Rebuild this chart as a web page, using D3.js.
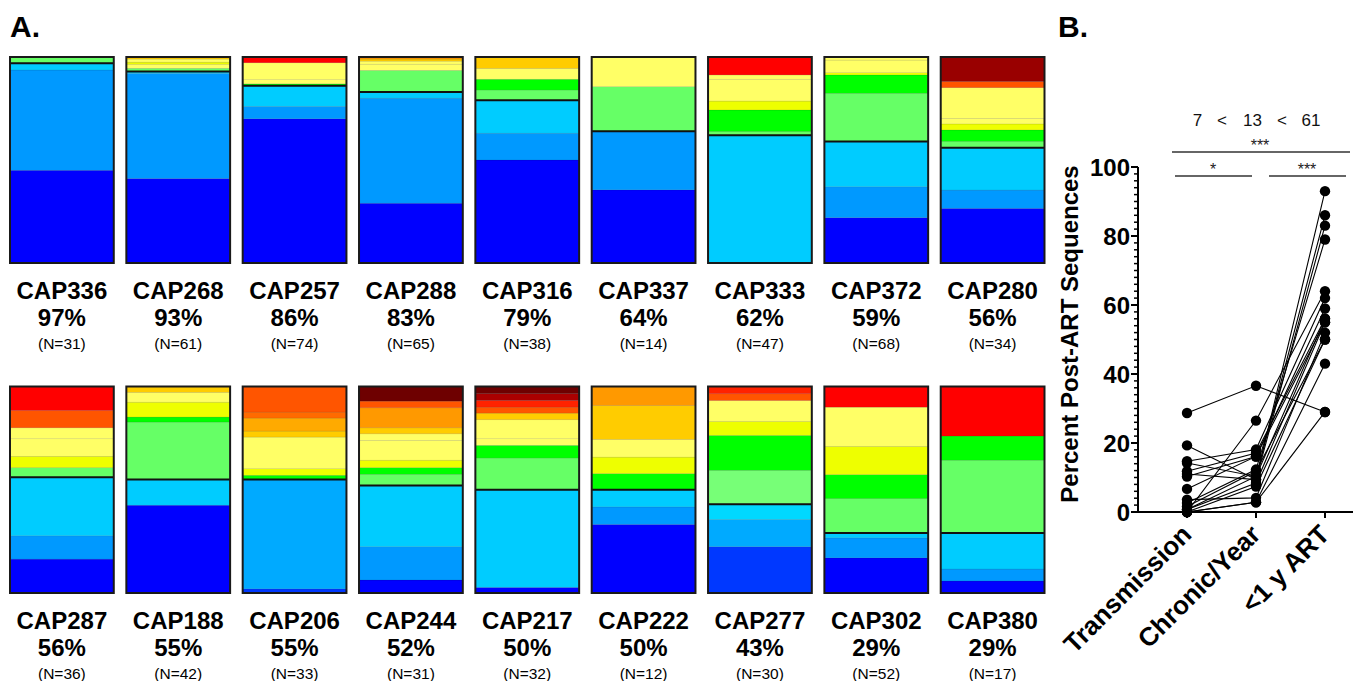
<!DOCTYPE html>
<html>
<head>
<meta charset="utf-8">
<script src="https://cdn.jsdelivr.net/npm/d3@7"></script>
<style>
  html, body { margin: 0; padding: 0; background: #ffffff; }
  svg { display: block; }
</style>
</head>
<body>
<svg id="chart" width="1358" height="681"></svg>
<script>
// ---------------- DATA ----------------
const patients = ["CAP336","CAP268","CAP257","CAP288","CAP316","CAP337","CAP333","CAP372","CAP280",
                  "CAP287","CAP188","CAP206","CAP244","CAP217","CAP222","CAP277","CAP302","CAP380"];
const percents = [97,93,86,83,79,64,62,59,56,56,55,55,52,50,50,43,29,29];
const counts   = [31,61,74,65,38,14,47,68,34,36,42,33,31,32,12,30,52,17];

// lineage category of each stacked segment (bottom -> top)
const segmentCats = [
  ["db","mb","lb","lg"],
  ["db","mb","lb","lg","ly","yg","ly","gold"],
  ["db","mb","lb","g","ly","ly","r"],
  ["db","mb","lb","lg","ly","ly","gold","or"],
  ["db","mb","lb","lg","g","ly","gold"],
  ["db","mb","lg","ly"],
  ["lb","lg","g","yg","ly","ly","r"],
  ["db","mb","lb","lg","g","yg","ly","ly"],
  ["db","mb","lb","lg","g","yg","ly","ly","ro","dr"],
  ["db","mb","lb","lg","yg","ly","ly","ro","r"],
  ["db","lb","lg","g","yg","ly","gold"],
  ["db2","mb2","g","yg","ly","gold","or2","ro2","ro"],
  ["db","mb","lb","lg","g","yg","ly","ly","gold","or","ro","ddr"],
  ["db","lb","lg","g","ly","ly","gold","ro","r2","dr2","ddr"],
  ["db","mb","lb","g","yg","ly","gold","or"],
  ["db2","mb2","lb2","lg2","g","yg","ly","ro","r2"],
  ["db","mb","lb","lg","g","yg","ly","r"],
  ["db","mb","lb","lg","g","r"]
];
// cumulative upper bound (% of sequences) of each segment
const segmentTops = [
  [45,93.7,97,100],
  [41,92,93,94.5,96.5,97.5,99,100],
  [70,76,86,87,89,97.2,100],
  [29,80,83,93.5,96.5,98,99,100],
  [50,63,79,84,89.2,94.5,100],
  [35.5,64,85.6,100],
  [62,63.8,74.3,78.6,89.2,91.3,100],
  [22,37,59,82.4,91.3,92.4,98.5,100],
  [26.5,35.4,56,59,64.6,67.5,70.2,85.1,88.1,100],
  [16.4,27.7,56,60.7,66.2,74.7,80,88.4,100],
  [42.5,55,82.8,85.2,92.4,97.2,100],
  [2,55,57,60.2,75.5,78.4,84.7,87.6,100],
  [6.3,22.4,52,57.5,60.7,64.3,73.9,77.1,80,89.7,92.9,100],
  [2.7,50,65.4,71.5,74.7,83.9,87.1,90,93.2,96.5,100],
  [33.2,41.7,50,57.8,65.8,74.4,90.8,100],
  [22.4,35.6,43,59.4,76.3,83.1,93.2,96.5,100],
  [17,26.7,29,45.7,57.3,71,90,100],
  [5.8,11.6,29,64.3,76,100]
];

// Panel B (one row per subject)
const groups = ["Transmission","Chronic/Year","<1 y ART"];
const transmission = [28.7,0,19.3,14.7,14.2,11.8,10.3,11,6.7,3.6,2.6,1.6,0.7,0.7,0,0,0];
const chronic      = [36.6,26.5,9.4,18.1,10.3,17.1,16.1,9.4,16.1,4.1,12.3,11.8,10.3,8.4,7.4,2.8,2.8];
const postArt      = [29,64,93,62,86,56,55,83,59,52,79,50,56,55,50,43,29];
const groupMeans   = ["7","<","13","<","61"];
const yTicksB = [0,20,40,60,80,100];

// ---------------- STYLES ----------------
const lineageColors = {
  db:"#0000ff", db2:"#0038ff", mb:"#0099ff", mb2:"#00aaff", lb:"#00ccff", lb2:"#00d8ff",
  lg:"#66ff66", lg2:"#77ff77", g:"#00ff00", yg:"#eeff00", ly:"#ffff66", gold:"#ffcc00",
  or:"#ff9900", or2:"#ffaa00", ro:"#ff5500", ro2:"#ff6a00", r:"#ff0000", r2:"#ff2200",
  dr:"#990000", dr2:"#aa0000", ddr:"#6e0000"
};
const arial = "'Liberation Sans',Arial,Helvetica,sans-serif";

const svg = d3.select("#chart");

// ---------------- PANEL A ----------------
svg.append("text").attr("x", 10).attr("y", 37).text("A.")
  .attr("font-family", arial).attr("font-weight", "bold").attr("font-size", 30);

const xBand = d3.scaleBand().domain(d3.range(9)).range([10, 1044.5]).paddingInner(0.108).paddingOuter(0);
const yRows = [
  d3.scaleLinear().domain([0,100]).range([263,57]),
  d3.scaleLinear().domain([0,100]).range([593,386.5])
];

function label(g, cx, y, txt, size, weight) {
  g.append("text").attr("x", cx).attr("y", y)
    .attr("text-anchor","middle").attr("font-family", arial)
    .attr("font-weight", weight).attr("font-size", size).text(txt);
}

patients.forEach((name, i) => {
  const row = i < 9 ? 0 : 1;
  const col = i % 9;
  const y = yRows[row];
  const x0 = xBand(col), w = xBand.bandwidth();
  const g = svg.append("g");
  const segs = segmentTops[i].map((top, k) => ({
    cat: segmentCats[i][k], lo: k === 0 ? 0 : segmentTops[i][k-1], hi: top
  }));
  g.selectAll("rect.seg").data(segs).join("rect").attr("class","seg")
    .attr("x", x0).attr("width", w)
    .attr("y", d => y(d.hi)).attr("height", d => y(d.lo) - y(d.hi))
    .attr("fill", d => lineageColors[d.cat])
    .attr("stroke", "rgba(0,0,0,0.15)").attr("stroke-width", 0.6);
  g.append("line").attr("x1", x0).attr("x2", x0 + w)
    .attr("y1", y(percents[i])).attr("y2", y(percents[i]))
    .attr("stroke", "#111").attr("stroke-width", 2);
  g.append("rect").attr("x", x0).attr("y", y(100)).attr("width", w).attr("height", y(0) - y(100))
    .attr("fill", "none").attr("stroke", "#1a1a1a").attr("stroke-width", 2);
  const cx = x0 + w / 2;
  const base = y(0);
  label(g, cx, base + 36, name, 24, "bold");
  label(g, cx, base + 63, percents[i] + "%", 24, "bold");
  label(g, cx, base + 86, "(N=" + counts[i] + ")", 15.5, "normal");
});

// ---------------- PANEL B ----------------
svg.append("text").attr("x", 1058).attr("y", 37).text("B.")
  .attr("font-family", arial).attr("font-weight", "bold").attr("font-size", 30);

const axisX = 1138;
const yB = d3.scaleLinear().domain([0,100]).range([512,167]);
const xB = d3.scalePoint().domain(groups).range([1187,1325]);

const gy = svg.append("g");
gy.append("line").attr("x1", axisX).attr("x2", axisX).attr("y1", yB(0)+1).attr("y2", yB(100))
  .attr("stroke","#000").attr("stroke-width",2);
gy.selectAll("line.minor").data(d3.range(0,101,2).filter(v => v % 20 !== 0)).join("line")
  .attr("class","minor").attr("x1", axisX - 4).attr("x2", axisX)
  .attr("y1", d => yB(d)).attr("y2", d => yB(d)).attr("stroke","#000").attr("stroke-width",1.5);
gy.selectAll("line.major").data(yTicksB).join("line")
  .attr("class","major").attr("x1", axisX - 7).attr("x2", axisX)
  .attr("y1", d => yB(d)).attr("y2", d => yB(d)).attr("stroke","#000").attr("stroke-width",2);
gy.selectAll("text").data(yTicksB).join("text")
  .attr("x", axisX - 8).attr("y", d => yB(d)).attr("dy","0.36em").attr("text-anchor","end")
  .attr("font-family", arial).attr("font-weight","bold").attr("font-size", 24).text(d => d);

svg.append("text").attr("transform", `translate(1078,334) rotate(-90)`)
  .attr("text-anchor","middle").attr("font-family", arial).attr("font-weight","bold")
  .attr("font-size", 24).text("Percent Post-ART Sequences");

const gx = svg.append("g");
gx.append("line").attr("x1", axisX - 1).attr("x2", 1353).attr("y1", yB(0)).attr("y2", yB(0))
  .attr("stroke","#000").attr("stroke-width",2);
gx.selectAll("line.tick").data(groups).join("line").attr("class","tick")
  .attr("x1", d => xB(d)).attr("x2", d => xB(d)).attr("y1", yB(0)).attr("y2", yB(0) + 6)
  .attr("stroke","#000").attr("stroke-width",2);
gx.selectAll("text").data(groups).join("text")
  .attr("transform", d => `translate(${xB(d) + 6},${yB(0) + 24}) rotate(-45)`)
  .attr("text-anchor","end").attr("font-family", arial).attr("font-weight","bold")
  .attr("font-size", 26).text(d => d);

const subjects = transmission.map((t, i) => [t, chronic[i], postArt[i]]);
svg.append("g").selectAll("path").data(subjects).join("path")
  .attr("d", d => d3.line().x((v, k) => xB(groups[k])).y(v => yB(v))(d))
  .attr("fill","none").attr("stroke","#000").attr("stroke-width",1.1);
const pts = [];
subjects.forEach(d => d.forEach((v, k) => pts.push({g: groups[k], v})));
svg.append("g").selectAll("circle").data(pts).join("circle")
  .attr("cx", d => xB(d.g)).attr("cy", d => yB(d.v)).attr("r", 5.2).attr("fill","#000");

const meanX = [1197.5, 1222, 1252.5, 1282, 1311];
svg.append("g").selectAll("text").data(groupMeans).join("text")
  .attr("x", (d, i) => meanX[i]).attr("y", 126).attr("text-anchor","middle")
  .attr("font-family", arial).attr("font-size", 17).attr("fill","#111").text(d => d);

const brackets = [
  {x1: 1172, x2: 1350, y: 152, label: "***", lx: 1260},
  {x1: 1175, x2: 1252, y: 176, label: "*", lx: 1213},
  {x1: 1269, x2: 1346, y: 176, label: "***", lx: 1307}
];
const gb = svg.append("g");
gb.selectAll("line").data(brackets).join("line")
  .attr("x1", d => d.x1).attr("x2", d => d.x2).attr("y1", d => d.y).attr("y2", d => d.y)
  .attr("stroke","#333").attr("stroke-width",1.3);
gb.selectAll("text").data(brackets).join("text")
  .attr("x", d => d.lx).attr("y", d => d.y - 1).attr("text-anchor","middle")
  .attr("font-family", arial).attr("font-size", 16).attr("fill","#222").text(d => d.label);
</script>
</body>
</html>
